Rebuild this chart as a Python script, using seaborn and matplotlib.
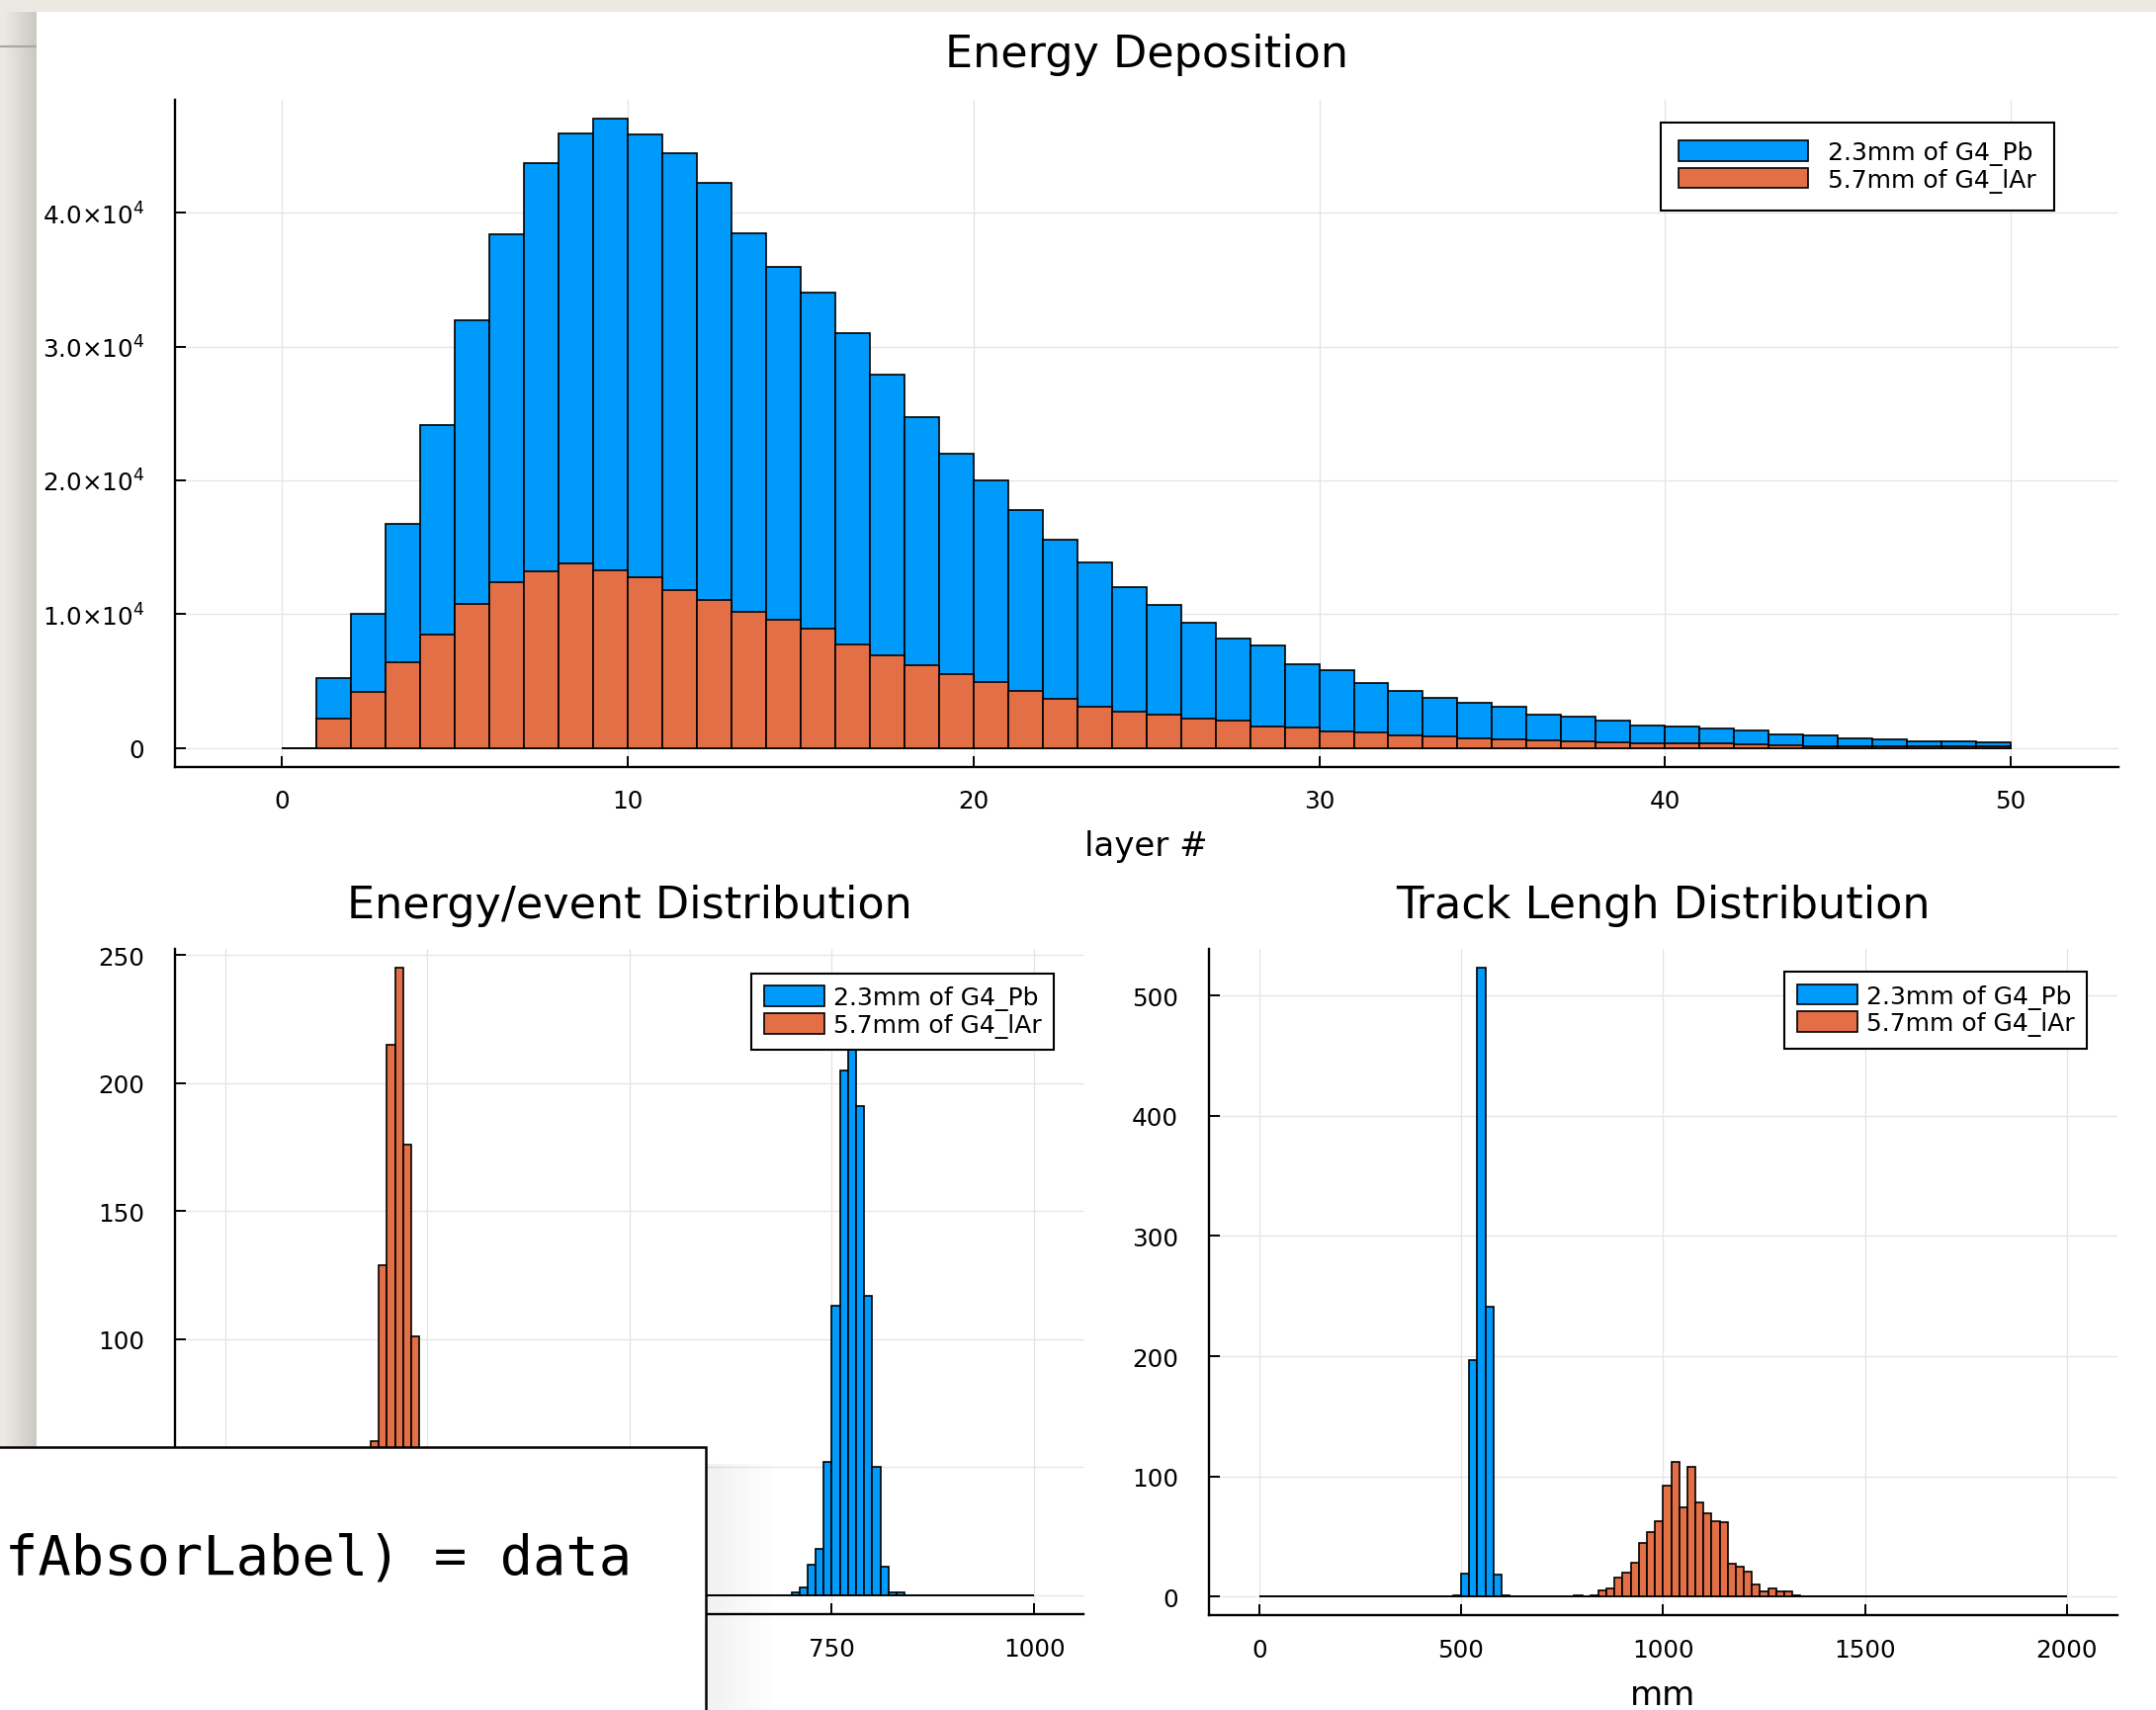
import numpy as np
import pandas as pd
import matplotlib
matplotlib.use("Agg")
import matplotlib.pyplot as plt
import seaborn as sns
from matplotlib.patches import Rectangle, Patch

# ---------------- data ----------------
layer_index = list(range(50))            # layer bins [k, k+1)
layer_pb = [0, 5240, 10000, 16780, 24130, 32000, 38420, 43690, 45920, 47010,
            45840, 44490, 42220, 38490, 35970, 34010, 31030, 27900, 24730, 22020,
            20020, 17760, 15570, 13840, 12030, 10710, 9390, 8140, 7690, 6260,
            5810, 4830, 4260, 3770, 3360, 3050, 2490, 2300, 2000, 1660,
            1580, 1470, 1280, 1020, 940, 680, 600, 490, 450, 410]
layer_lar = [0, 2190, 4150, 6370, 8480, 10740, 12370, 13230, 13760, 13270,
             12780, 11760, 11050, 10180, 9540, 8930, 7730, 6940, 6150, 5540,
             4940, 4260, 3660, 3090, 2710, 2450, 2190, 2000, 1580, 1510,
             1210, 1130, 940, 870, 720, 640, 530, 450, 380, 340,
             330, 300, 230, 190, 150, 110, 110, 80, 80, 80]

# energy per event: bin start (width 10) and counts
energy_pb_bins = [700, 710, 720, 730, 740, 750, 760, 770, 780, 790, 800, 810, 820, 830]
energy_pb_counts = [1, 3, 12, 18, 52, 113, 205, 225, 191, 117, 50, 11, 1, 1]
energy_lar_bins = [160, 170, 180, 190, 200, 210, 220, 230, 240, 250, 260]
energy_lar_counts = [2, 18, 60, 129, 215, 245, 176, 101, 44, 9, 1]

# track length: bin start (width 20) and counts
track_pb_bins = [480, 500, 520, 540, 560, 580, 600]
track_pb_counts = [1, 19, 197, 523, 241, 18, 1]
track_lar_bins = [780, 820, 840, 860, 880, 900, 920, 940, 960, 980, 1000, 1020,
                  1040, 1060, 1080, 1100, 1120, 1140, 1160, 1180, 1200, 1220,
                  1240, 1260, 1280, 1300, 1320]
track_lar_counts = [1, 1, 5, 7, 16, 20, 28, 45, 54, 63, 92, 112,
                    74, 108, 78, 69, 63, 62, 27, 25, 21, 10,
                    4, 7, 4, 4, 1]

labels = ["2.3mm of G4_Pb", "5.7mm of G4_lAr"]
titles = ["Energy Deposition", "Energy/event Distribution", "Track Lengh Distribution"]
code_text = "fAbsorLabel) = data"

BLUE = "#009AFA"
ORANGE = "#E36F47"

# ---------------- style ----------------
sns.set_theme(style="white")
plt.rcParams["font.family"] = ["DejaVu Sans"]
plt.rcParams["mathtext.fontset"] = "dejavusans"
plt.rcParams["text.color"] = "black"
plt.rcParams["axes.labelcolor"] = "black"

W, H = 2181, 1731
fig = plt.figure(figsize=(W / 100, H / 100), dpi=100)


def rect(l, t, r, b):
    return [l / W, 1 - b / H, (r - l) / W, (b - t) / H]


# background (paper + white panel + soft shadow)
ax_bg = fig.add_axes([0, 0, 1, 1], zorder=-10)
ax_bg.set_xlim(0, W)
ax_bg.set_ylim(H, 0)
ax_bg.axis("off")
ax_bg.add_patch(Rectangle((-5, -5), W + 10, H + 10, fc="#ECE9E2", ec="none"))
for i in range(16):
    ax_bg.add_patch(Rectangle((37 - 2 * (i + 1), 13), 2 * (i + 1), H, fc="black",
                              ec="none", alpha=0.007))
ax_bg.plot([0, 37], [48, 48], color="#A8A8A8", lw=1.6, solid_capstyle="butt")
ax_bg.add_patch(Rectangle((37, 13), W, H, fc="white", ec="none"))

ax_top = fig.add_axes(rect(177, 102, 2142.6, 776.5))
ax_e = fig.add_axes(rect(177, 961, 1096, 1634))
ax_t = fig.add_axes(rect(1222.7, 961, 2142, 1635.4))

bar_kw = dict(alpha=1, edgecolor="black", linewidth=1.2)


def hist(ax, starts, counts, width, lo, hi, color):
    df = pd.DataFrame({"x": np.asarray(starts, dtype=float) + width / 2,
                       "w": np.asarray(counts, dtype=float)})
    sns.histplot(data=df, x="x", weights="w", binwidth=width, binrange=(lo, hi),
                 color=color, ax=ax, **bar_kw)


# top: energy per layer
hist(ax_top, layer_index, layer_pb, 1, 0, 50, BLUE)
hist(ax_top, layer_index, layer_lar, 1, 0, 50, ORANGE)

# bottom-left: energy/event
hist(ax_e, energy_pb_bins, energy_pb_counts, 10, 0, 1000, BLUE)
hist(ax_e, energy_lar_bins, energy_lar_counts, 10, 0, 1000, ORANGE)

# bottom-right: track length
hist(ax_t, track_pb_bins, track_pb_counts, 20, 0, 2000, BLUE)
hist(ax_t, track_lar_bins, track_lar_counts, 20, 0, 2000, ORANGE)


def style(ax):
    for s in ["top", "right"]:
        ax.spines[s].set_visible(False)
    for s in ["left", "bottom"]:
        ax.spines[s].set_visible(True)
        ax.spines[s].set_linewidth(1.7)
        ax.spines[s].set_color("black")
    ax.tick_params(direction="in", length=8, width=1.4, labelsize=17.7,
                   color="black", labelcolor="black", left=True, bottom=True)
    ax.tick_params(axis="y", pad=22)
    ax.tick_params(axis="x", pad=16.5)
    ax.grid(True, color="#E4E4E4", lw=0.9)
    ax.set_axisbelow(True)
    ax.set_ylabel("")
    ax.set_xlabel("")


for ax in (ax_top, ax_e, ax_t):
    style(ax)

ax_top.set_xlim(-3.09, 53.1)
ax_top.set_ylim(-1400, 48450)
ax_top.set_xticks([0, 10, 20, 30, 40, 50])
yt = [0, 10000, 20000, 30000, 40000]
ax_top.set_yticks(yt)
ax_top.set_yticklabels(["0"] + [r"$%.1f{\times}10^{4}$" % (v / 1e4) for v in yt[1:]])

ax_e.set_xlim(-62, 1061)
ax_e.set_ylim(-7.35, 252.35)
ax_e.set_xticks([0, 250, 500, 750, 1000])
ax_e.set_yticks([0, 50, 100, 150, 200, 250])

ax_t.set_xlim(-125, 2125)
ax_t.set_ylim(-15.7, 538.7)
ax_t.set_xticks([0, 500, 1000, 1500, 2000])
ax_t.set_yticks([0, 100, 200, 300, 400, 500])

# titles
tkw = dict(fontsize=32, va="baseline", pad=0, color="black")
ax_top.set_title(titles[0], y=(776.5 - 68) / 674.5, **tkw)
ax_e.set_title(titles[1], y=(1634 - 928.7) / 673, **tkw)
ax_t.set_title(titles[2], y=(1635.4 - 928.7) / 674.4, **tkw)

# x labels
ax_top.set_xlabel("layer #", fontsize=24.5, va="baseline", color="black")
ax_top.xaxis.set_label_coords(0.5, (776.5 - 866) / 674.5)
ax_t.set_xlabel("mm", fontsize=24.5, va="baseline", color="black")
ax_t.xaxis.set_label_coords(0.5, (1635.4 - 1724.7) / 674.4)

# legends
handles = [Patch(facecolor=BLUE, edgecolor="black", lw=1.2, label=labels[0]),
           Patch(facecolor=ORANGE, edgecolor="black", lw=1.2, label=labels[1])]
leg_common = dict(loc="upper right", borderaxespad=0, fontsize=18, frameon=True,
                  fancybox=False, edgecolor="black", framealpha=1,
                  handleheight=0.9, labelspacing=0.1)
lg = ax_top.legend(handles=handles, bbox_to_anchor=(0.9669, 0.9658), handlelength=5.25,
                   handletextpad=0.8, borderpad=0.72, **leg_common)
lg.get_frame().set_linewidth(1.5)
lg = ax_e.legend(handles=handles, bbox_to_anchor=(0.9674, 0.9629), handlelength=2.45,
                 handletextpad=0.36, borderpad=0.5, **leg_common)
lg.get_frame().set_linewidth(1.5)
lg = ax_t.legend(handles=handles, bbox_to_anchor=(0.9667, 0.9658), handlelength=2.45,
                 handletextpad=0.36, borderpad=0.5, **leg_common)
lg.get_frame().set_linewidth(1.5)

# overlay: code box
ax_ov = fig.add_axes([0, 0, 1, 1], zorder=10)
ax_ov.set_xlim(0, W)
ax_ov.set_ylim(H, 0)
ax_ov.axis("off")
for i in range(14):
    ax_ov.add_patch(Rectangle((714, 1482), 5 * (i + 1), 300, fc="black", ec="none",
                              alpha=0.005))
ax_ov.add_patch(Rectangle((-20, 1465), 734, 400, fc="white", ec="black", lw=1.8))
ax_ov.text(5, 1593, code_text, family="DejaVu Sans Mono", fontsize=40,
           va="baseline", ha="left", color="black")

fig.savefig("out.png", dpi=100)
